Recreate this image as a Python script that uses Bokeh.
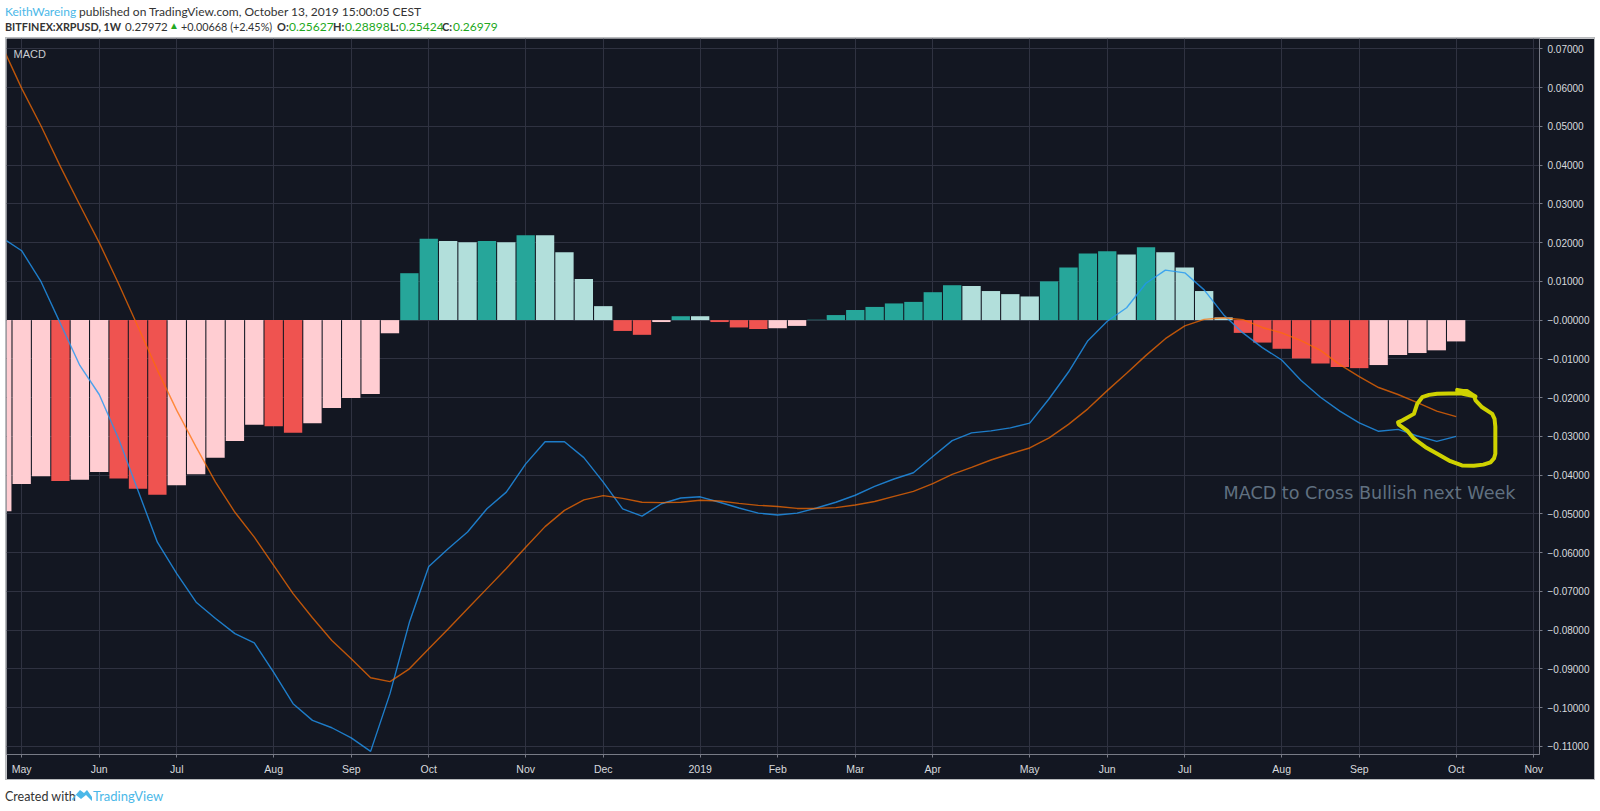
from bokeh.plotting import figure
from bokeh.layouts import column
from bokeh.embed import file_html
from bokeh.resources import INLINE
from bokeh.models import Label, FixedTicker, Range1d, Div

# --- data (weekly bars, BITFINEX:XRPUSD 1W, Apr 2018 - Oct 2019) ---
week_index = list(range(76))
hist = [-0.0493,-0.0423,-0.0403,-0.0415,-0.0412,-0.0392,-0.0409,-0.0435,-0.0451,-0.0426,
        -0.0398,-0.0355,-0.0312,-0.0270,-0.0274,-0.0291,-0.0266,-0.0227,-0.0201,-0.0191,
        -0.0034,0.0121,0.0210,0.0204,0.0201,0.0204,0.0201,0.0219,0.0219,0.0175,
        0.0106,0.0036,-0.0028,-0.0038,-0.0005,0.0010,0.0010,-0.0005,-0.0019,-0.0023,
        -0.0021,-0.0015,0.0001,0.0013,0.0026,0.0034,0.0043,0.0047,0.0072,0.0090,
        0.0088,0.0075,0.0067,0.0061,0.0100,0.0136,0.0172,0.0178,0.0169,0.0188,
        0.0175,0.0136,0.0075,0.0007,-0.0033,-0.0058,-0.0074,-0.0099,-0.0112,-0.0121,
        -0.0124,-0.0116,-0.0090,-0.0085,-0.0078,-0.0055]
hist_state = ["p","p","p","d","p","p","d","d","d","p",
              "p","p","p","p","d","d","p","p","p","p",
              "p","d","d","p","p","d","p","d","p","p",
              "p","p","d","d","p","d","p","d","d","d",
              "p","p","d","d","d","d","d","d","d","d",
              "p","p","p","p","d","d","d","d","p","d",
              "p","p","p","p","d","d","d","d","d","d",
              "d","p","p","p","p","p"]
macd = [0.0212,0.0179,0.0099,-0.0009,-0.0117,-0.0192,-0.0306,-0.0440,-0.0573,-0.0654,
        -0.0728,-0.0770,-0.0809,-0.0833,-0.0909,-0.0990,-0.1033,-0.1052,-0.1078,-0.1113,
        -0.0964,-0.0780,-0.0636,-0.0590,-0.0547,-0.0487,-0.0444,-0.0371,-0.0314,-0.0314,
        -0.0355,-0.0418,-0.0487,-0.0506,-0.0474,-0.0459,-0.0456,-0.0470,-0.0485,-0.0498,
        -0.0503,-0.0498,-0.0485,-0.0470,-0.0452,-0.0429,-0.0410,-0.0394,-0.0352,-0.0311,
        -0.0291,-0.0286,-0.0278,-0.0266,-0.0203,-0.0134,-0.0053,-0.0003,0.0032,0.0095,
        0.0129,0.0122,0.0078,0.0014,-0.0033,-0.0071,-0.0103,-0.0156,-0.0199,-0.0235,
        -0.0265,-0.0287,-0.0282,-0.0299,-0.0313,-0.0300]
signal = [0.0706,0.0598,0.0501,0.0396,0.0297,0.0200,0.0094,-0.0017,-0.0129,-0.0233,
          -0.0328,-0.0418,-0.0496,-0.0560,-0.0633,-0.0706,-0.0768,-0.0827,-0.0874,-0.0923,
          -0.0933,-0.0900,-0.0848,-0.0797,-0.0745,-0.0693,-0.0641,-0.0586,-0.0533,-0.0491,
          -0.0464,-0.0453,-0.0460,-0.0470,-0.0471,-0.0470,-0.0465,-0.0467,-0.0473,-0.0478,
          -0.0481,-0.0486,-0.0486,-0.0484,-0.0477,-0.0468,-0.0455,-0.0442,-0.0422,-0.0398,
          -0.0380,-0.0361,-0.0345,-0.0330,-0.0304,-0.0269,-0.0229,-0.0182,-0.0137,-0.0091,
          -0.0048,-0.0015,0.0002,0.0006,0.0001,-0.0019,-0.0033,-0.0053,-0.0078,-0.0115,
          -0.0146,-0.0174,-0.0192,-0.0213,-0.0235,-0.0249]
scribble_week = [75.05,75.57,75.91,76.0,76.34,76.86,76.98,77.02,77.02,76.95,76.77,76.4,75.91,75.3,74.7,74.02,73.42,72.82,72.47,72.04,72.0,72.21,72.82,72.99,73.25,73.6,74.02,75.22,76.0,75.57,75.05]
scribble_val = [-0.0182,-0.0183,-0.0195,-0.0207,-0.0225,-0.0242,-0.0255,-0.0275,-0.0345,-0.0357,-0.0367,-0.0373,-0.0376,-0.0375,-0.0364,-0.0345,-0.0328,-0.0306,-0.0285,-0.0270,-0.0264,-0.0259,-0.0242,-0.0216,-0.0199,-0.0193,-0.0190,-0.0189,-0.0197,-0.0185,-0.0180]

month_weeks = [1,5,9,14,18,22,27,31,36,40,44,48,53,57,61,66,70,75,79]
month_labels = ["May","Jun","Jul","Aug","Sep","Oct","Nov","Dec","2019","Feb","Mar","Apr","May","Jun","Jul","Aug","Sep","Oct","Nov"]
y_ticks = [0.07,0.06,0.05,0.04,0.03,0.02,0.01,0.0,-0.01,-0.02,-0.03,-0.04,-0.05,-0.06,-0.07,-0.08,-0.09,-0.10,-0.11]
y_labels = ["0.07000","0.06000","0.05000","0.04000","0.03000","0.02000","0.01000","\u22120.00000",
            "\u22120.01000","\u22120.02000","\u22120.03000","\u22120.04000","\u22120.05000","\u22120.06000",
            "\u22120.07000","\u22120.08000","\u22120.09000","\u22120.10000","\u22120.11000"]

BG = "#131722"
GRID = "#2f3241"
AXIS = "#787b86"
TICKTXT = "#d8dade"
hist_colors = {("d", True): "#26a69a", ("p", True): "#b2dfdb", ("d", False): "#ef5350", ("p", False): "#ffcdd2"}
colors = [hist_colors[(s, v >= 0)] for s, v in zip(hist_state, hist)]

W, H = 1600, 811
L, R, T, B = 6, 1539, 38, 754
PANEL_R, PANEL_B = 1594, 779
x0, dx = 1.8, 19.385
y_px_zero, y_px_per = 319.6, 3875.0

p = figure(width=PANEL_R - L, height=PANEL_B - T, output_backend="svg", toolbar_location=None, tools="",
           x_range=Range1d((L - x0) / dx, (R - x0) / dx),
           y_range=Range1d((y_px_zero - B) / y_px_per, (y_px_zero - T) / y_px_per),
           y_axis_location="right",
           min_border_left=0, min_border_right=PANEL_R - R, min_border_top=0, min_border_bottom=PANEL_B - B)
p.margin = (0, 0, 0, L)
p.styles = {"outline": "1px solid #b8babd"}
p.background_fill_color = BG
p.border_fill_color = BG
p.outline_line_color = None

p.vbar(x=week_index, top=hist, bottom=0, width=0.945, fill_color=colors, line_color=None)
p.line(week_index, macd, line_color="#2196f3", line_width=1.4, line_alpha=0.8)
p.line(week_index, signal, line_color="#ff6d00", line_width=1.4, line_alpha=0.72)
p.line(scribble_week, scribble_val, line_color="#cfd200", line_width=4, line_join="round", line_cap="round")

xax, yax = p.xaxis[0], p.yaxis[0]
xax.ticker = FixedTicker(ticks=month_weeks)
xax.major_label_overrides = dict(zip(month_weeks, month_labels))
yax.ticker = FixedTicker(ticks=y_ticks)
yax.major_label_overrides = dict(zip(y_ticks, y_labels))
for ax in (xax, yax):
    ax.axis_line_color = AXIS
    ax.major_tick_line_color = AXIS
    ax.major_tick_out = 3
    ax.major_tick_in = 0
    ax.minor_tick_line_color = None
    ax.major_label_text_color = TICKTXT
    ax.major_label_text_font = "Liberation Sans"
xax.major_label_text_font_size = "10.5px"
yax.major_label_text_font_size = "10px"
xax.major_label_standoff = 5
yax.major_label_standoff = 5

p.xgrid.ticker = FixedTicker(ticks=month_weeks)
p.ygrid.ticker = FixedTicker(ticks=y_ticks)
p.grid.grid_line_color = GRID
p.grid.grid_line_width = 1

p.add_layout(Label(x=13 - L, y=53 - T, x_units="canvas", y_units="canvas", text="MACD", text_color="#c9cbd0",
                   text_font="Liberation Sans", text_font_size="11px", text_baseline="middle"))
p.add_layout(Label(x=1223 - L, y=492 - T, x_units="canvas", y_units="canvas", text="MACD to Cross Bullish next Week",
                   text_color="#607080", text_font="DejaVu Sans", text_font_size="17.6px", text_baseline="middle"))

GREEN = "#22a922"
BLUE = "#4bb8e8"
DARK = "#333333"


def span(x, y, s, color=DARK, size=12, weight="normal"):
    return (f'<span style="position:absolute;left:{x}px;top:{y}px;transform:translateY(-50%);color:{color};'
            f'font:{weight} {size}px Lato;white-space:nowrap">{s}</span>')


header_parts = [span(5, 11, "KeithWareing", BLUE),
                span(79, 11, "published on TradingView.com, October 13, 2019 15:00:05 CEST"),
                span(5, 26, "BITFINEX:XRPUSD, 1W", size=10.8, weight="bold"),
                span(125, 26, "0.27972", size=11.5),
                span(169, 25, "\u25B2", GREEN, 10),
                span(181, 26, "+0.00668 (+2.45%)", size=10.8),
                span(277, 26, "O:", size=11, weight="bold"),
                span(289, 26, "0.25627", GREEN),
                span(333, 26, "H:", size=11, weight="bold"),
                span(345, 26, "0.28898", GREEN),
                span(390, 26, "L:", size=11, weight="bold"),
                span(399, 26, "0.25424", GREEN),
                span(442, 26, "C:", size=11, weight="bold"),
                span(453, 26, "0.26979", GREEN)]
header = Div(text="".join(header_parts), width=W, height=T, margin=0, styles={"position": "relative"})

logo = ('<svg style="position:absolute;left:72px;top:10px" width="21" height="13" viewBox="0 0 21 13">'
        f'<path d="M0 10 L8 1 L12 4 L15 1 L20 8 L20 12 L14 6 L9 10 L4 6 L1 12 Z" fill="{BLUE}"/></svg>')
footer = Div(text=span(5, 17, "Created with", size=12.5) + logo + span(93, 17, "TradingView", BLUE, 13),
             width=W, height=H - PANEL_B, margin=0, styles={"position": "relative"})

page = column(header, p, footer, spacing=0, margin=0, styles={"position": "absolute", "left": "0px", "top": "0px"})

open("out.html", "w").write(file_html(page, INLINE))
